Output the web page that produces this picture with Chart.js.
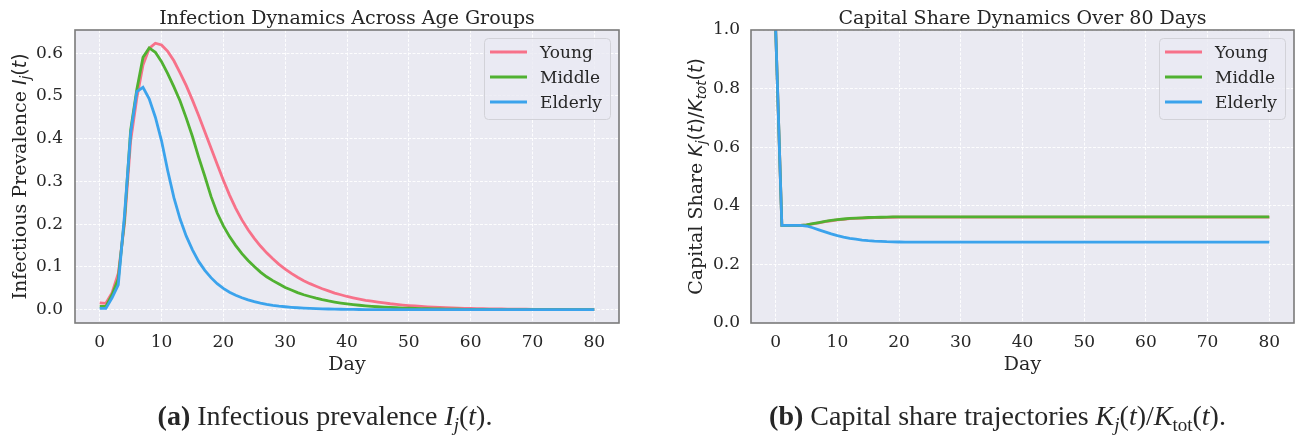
<!DOCTYPE html>
<html><head><meta charset="utf-8">
<script src="https://cdn.jsdelivr.net/npm/chart.js@4.4.1/dist/chart.umd.min.js"></script>
<style>
html,body{margin:0;padding:0;background:#fff;}
#wrap{position:relative;width:1296px;height:436px;overflow:hidden;}
.c{position:absolute;top:0;width:648px;height:436px;}
canvas{display:block;}
</style></head><body>
<div id="wrap">
<div class="c" style="left:0"><canvas id="c1" width="648" height="436"></canvas></div>
<div class="c" style="left:648px"><canvas id="c2" width="648" height="436"></canvas></div>
</div>
<script>
// ---------- data ----------
const days = [0,1,2,3,4,5,6,7,8,9,10,11,12,13,14,15,16,17,18,19,20,21,22,23,24,25,26,27,28,29,30,31,32,33,34,35,36,37,38,39,40,41,42,43,44,45,46,47,48,49,50,51,52,53,54,55,56,57,58,59,60,61,62,63,64,65,66,67,68,69,70,71,72,73,74,75,76,77,78,79,80];
const xTickValues = [0,10,20,30,40,50,60,70,80];
const yTicksLeft = [0.0,0.1,0.2,0.3,0.4,0.5,0.6];
const yTicksRight = [0.0,0.2,0.4,0.6,0.8,1.0];
const groupNames = ['Young','Middle','Elderly'];
const groupColors = ['#f77189','#50b131','#3ba3ec'];

const infYoung = [0.016,0.015,0.040,0.085,0.200,0.395,0.495,0.572,0.611,0.623,
 0.619,0.604,0.582,0.554,0.524,0.490,0.454,0.416,0.378,0.340,
 0.303,0.268,0.237,0.210,0.187,0.167,0.149,0.133,0.119,0.106,
 0.095,0.085,0.076,0.068,0.061,0.055,0.049,0.044,0.039,0.035,
 0.031,0.028,0.025,0.022,0.020,0.018,0.016,0.014,0.0125,0.011,
 0.0098,0.0087,0.0077,0.0069,0.0061,0.0054,0.0048,0.0043,0.0038,0.0034,
 0.0030,0.0027,0.0024,0.0021,0.0019,0.0017,0.0015,0.0013,0.0012,0.0011,
 0.0010,0.0009,0.0008,0.0007,0.0006,0.0006,0.0005,0.0005,0.0004,0.0004,
 0.0003];
const infMiddle = [0.008,0.008,0.035,0.072,0.210,0.420,0.515,0.590,0.612,0.602,
 0.580,0.552,0.521,0.488,0.448,0.405,0.357,0.312,0.265,0.226,
 0.196,0.171,0.150,0.131,0.115,0.101,0.088,0.077,0.068,0.060,
 0.052,0.046,0.040,0.035,0.031,0.027,0.0235,0.0205,0.018,0.0157,
 0.0137,0.012,0.0105,0.0092,0.008,0.007,0.0061,0.0053,0.0046,0.004,
 0.0035,0.0031,0.0027,0.0023,0.002,0.0018,0.0015,0.0013,0.0012,0.001,
 0.0009,0.0008,0.0007,0.0006,0.0005,0.0005,0.0004,0.0004,0.0003,0.0003,
 0.0003,0.0002,0.0002,0.0002,0.0002,0.0002,0.0002,0.0002,0.0002,0.0002,
 0.0002];
const infElderly = [0.003,0.003,0.028,0.058,0.220,0.413,0.510,0.520,0.493,0.450,
 0.395,0.325,0.262,0.212,0.172,0.140,0.113,0.092,0.075,0.061,
 0.050,0.041,0.034,0.028,0.023,0.019,0.0155,0.0127,0.0104,0.0085,
 0.0070,0.0057,0.0047,0.0038,0.0031,0.0026,0.0021,0.0017,0.0014,0.0011,
 0.0009,0.0007,0.0006,0.0005,0.0004,0.0003,0.0003,0.0002,0.0002,0.0002,
 0.0001,0.0001,0.0001,0.0001,0.0001,0.0001,0.0001,0.0001,0.0001,0.0001,
 0.0001,0.0001,0.0001,0.0001,0.0001,0.0001,0.0001,0.0001,0.0001,0.0001,
 0.0001,0.0001,0.0001,0.0001,0.0001,0.0001,0.0001,0.0001,0.0001,0.0001,
 0.0001];

const capYoung = [1.0,0.3333,0.3333,0.3333,0.3333,0.335,0.338,0.342,0.346,0.349,
 0.352,0.354,0.356,0.357,0.358,0.359,0.3595,0.360,0.3605,0.361,
 0.3612,0.3612,0.3612,0.3612,0.3612,0.3612,0.3612,0.3612,0.3612,0.3612,
 0.3612,0.3612,0.3612,0.3612,0.3612,0.3612,0.3612,0.3612,0.3612,0.3612,
 0.3612,0.3612,0.3612,0.3612,0.3612,0.3612,0.3612,0.3612,0.3612,0.3612,
 0.3612,0.3612,0.3612,0.3612,0.3612,0.3612,0.3612,0.3612,0.3612,0.3612,
 0.3612,0.3612,0.3612,0.3612,0.3612,0.3612,0.3612,0.3612,0.3612,0.3612,
 0.3612,0.3612,0.3612,0.3612,0.3612,0.3612,0.3612,0.3612,0.3612,0.3612,
 0.3612];
const capMiddle = [1.0,0.3333,0.3333,0.3333,0.3333,0.335,0.339,0.343,0.347,0.350,
 0.353,0.355,0.357,0.358,0.359,0.360,0.3605,0.361,0.3615,0.362,
 0.3625,0.3625,0.3625,0.3625,0.3625,0.3625,0.3625,0.3625,0.3625,0.3625,
 0.3625,0.3625,0.3625,0.3625,0.3625,0.3625,0.3625,0.3625,0.3625,0.3625,
 0.3625,0.3625,0.3625,0.3625,0.3625,0.3625,0.3625,0.3625,0.3625,0.3625,
 0.3625,0.3625,0.3625,0.3625,0.3625,0.3625,0.3625,0.3625,0.3625,0.3625,
 0.3625,0.3625,0.3625,0.3625,0.3625,0.3625,0.3625,0.3625,0.3625,0.3625,
 0.3625,0.3625,0.3625,0.3625,0.3625,0.3625,0.3625,0.3625,0.3625,0.3625,
 0.3625];
const capElderly = [1.0,0.3333,0.3333,0.3333,0.3333,0.331,0.325,0.318,0.311,0.304,
 0.298,0.293,0.289,0.286,0.283,0.281,0.2795,0.2785,0.2775,0.277,
 0.2765,0.2763,0.2763,0.2763,0.2763,0.2763,0.2763,0.2763,0.2763,0.2763,
 0.2763,0.2763,0.2763,0.2763,0.2763,0.2763,0.2763,0.2763,0.2763,0.2763,
 0.2763,0.2763,0.2763,0.2763,0.2763,0.2763,0.2763,0.2763,0.2763,0.2763,
 0.2763,0.2763,0.2763,0.2763,0.2763,0.2763,0.2763,0.2763,0.2763,0.2763,
 0.2763,0.2763,0.2763,0.2763,0.2763,0.2763,0.2763,0.2763,0.2763,0.2763,
 0.2763,0.2763,0.2763,0.2763,0.2763,0.2763,0.2763,0.2763,0.2763,0.2763,
 0.2763];

// ---------- helpers ----------
const TXT = '#262626';
const SERIF = '"DejaVu Serif", serif';
const MATH = '"DejaVu Sans", sans-serif';
const TIMES = '"Liberation Serif", "Times New Roman", serif';

function drawRich(ctx, segs, x, y, rot) {
  ctx.save();
  ctx.translate(x, y);
  if (rot) ctx.rotate(rot);
  let w = 0;
  for (const s of segs) { ctx.font = s.f; w += ctx.measureText(s.t).width; }
  let cx = -w / 2;
  ctx.textAlign = 'left';
  ctx.textBaseline = 'alphabetic';
  ctx.fillStyle = TXT;
  for (const s of segs) {
    ctx.font = s.f;
    ctx.fillText(s.t, cx, s.dy || 0);
    cx += ctx.measureText(s.t).width;
  }
  ctx.restore();
}

function makeDatasets(arrs) {
  return arrs.map((a, i) => ({
    label: groupNames[i],
    data: days.map((d, k) => ({ x: d, y: a[k] })),
    borderColor: groupColors[i],
    backgroundColor: groupColors[i],
    borderWidth: 2.8,
    pointRadius: 0,
    tension: 0,
    fill: false,
    order: 2 - i
  }));
}

function decorPlugin(cfg) {
  return {
    id: 'decor',
    beforeDraw(chart) {
      const { ctx, chartArea: a } = chart;
      ctx.save();
      ctx.fillStyle = '#eaeaf2';
      ctx.fillRect(a.left, a.top, a.right - a.left, a.bottom - a.top);
      ctx.restore();
    },
    afterDraw(chart) {
      const { ctx, chartArea: a } = chart;
      ctx.save();
      ctx.strokeStyle = '#7a7a7a';
      ctx.lineWidth = 1.6;
      ctx.strokeRect(a.left, a.top, a.right - a.left, a.bottom - a.top);
      ctx.fillStyle = TXT;
      ctx.font = '19px ' + SERIF;
      ctx.textAlign = 'center';
      ctx.textBaseline = 'alphabetic';
      ctx.fillText(cfg.title, (a.left + a.right) / 2, 24);
      ctx.fillText('Day', (a.left + a.right) / 2, 370);
      ctx.restore();
      drawRich(ctx, cfg.ylabel, cfg.ylabelX, (a.top + a.bottom) / 2, -Math.PI / 2);
      // legend
      const bw = 126, bh = 81;
      const bx = a.right - 9 - bw, by = a.top + 8;
      ctx.save();
      ctx.beginPath();
      if (ctx.roundRect) ctx.roundRect(bx + 0.5, by + 0.5, bw, bh, 4); else ctx.rect(bx + 0.5, by + 0.5, bw, bh);
      ctx.fillStyle = 'rgba(234,234,242,0.8)';
      ctx.fill();
      ctx.strokeStyle = '#d2d2d8';
      ctx.lineWidth = 1;
      ctx.stroke();
      chart.data.datasets.forEach((ds, i) => {
        const ly = by + 14 + i * 25;
        ctx.strokeStyle = ds.borderColor;
        ctx.lineWidth = 2.8;
        ctx.beginPath();
        ctx.moveTo(bx + 6, ly);
        ctx.lineTo(bx + 43, ly);
        ctx.stroke();
        ctx.fillStyle = TXT;
        ctx.font = '17px ' + SERIF;
        ctx.textAlign = 'left';
        ctx.textBaseline = 'alphabetic';
        ctx.fillText(ds.label, bx + 56, ly + 6);
      });
      ctx.restore();
      drawRich(ctx, cfg.caption, cfg.captionX, 425, 0);
    }
  };
}

function makeChart(id, arrs, yTicks, ymin, ymax, yAxisWidth, rightPad, yPad, cfg) {
  const ctx = document.getElementById(id).getContext('2d');
  return new Chart(ctx, {
    type: 'line',
    data: { datasets: makeDatasets(arrs) },
    options: {
      responsive: false,
      animation: false,
      devicePixelRatio: 1,
      layout: { padding: { top: 30, right: rightPad, bottom: 56, left: 0 } },
      plugins: { legend: { display: false }, tooltip: { enabled: false }, title: { display: false } },
      scales: {
        x: {
          type: 'linear', min: -4, max: 84,
          afterBuildTicks: s => { s.ticks = xTickValues.map(v => ({ value: v })); },
          afterFit: s => { s.height = 57; },
          grid: { color: 'rgba(255,255,255,0.9)', lineWidth: 1, drawTicks: false },
          border: { display: false, dash: [3, 1.5] },
          ticks: { color: TXT, font: { family: SERIF, size: 17 }, padding: 9, maxRotation: 0, autoSkip: false,
                   callback: v => String(v) }
        },
        y: {
          type: 'linear', min: ymin, max: ymax,
          afterBuildTicks: s => { s.ticks = yTicks.map(v => ({ value: v })); },
          afterFit: s => { s.width = yAxisWidth; },
          grid: { color: 'rgba(255,255,255,0.9)', lineWidth: 1, drawTicks: false },
          border: { display: false, dash: [3, 1.5] },
          ticks: { color: TXT, font: { family: SERIF, size: 17 }, padding: yPad, autoSkip: false,
                   callback: v => Number(v).toFixed(1) }
        }
      }
    },
    plugins: [decorPlugin(cfg)]
  });
}

const MI = 'italic 19px ' + MATH, MR = '19px ' + MATH, MS = 'italic 13.5px ' + MATH;
const CF = 28, CS = 19;
makeChart('c1', [infYoung, infMiddle, infElderly], yTicksLeft, -0.031, 0.654, 75, 29, 12, {
  title: 'Infection Dynamics Across Age Groups',
  ylabelX: 26,
  ylabel: [
    { t: 'Infectious Prevalence ', f: '19px ' + SERIF },
    { t: 'I', f: MI }, { t: 'j', f: MS, dy: 4 }, { t: '(', f: MR }, { t: 't', f: MI }, { t: ')', f: MR }
  ],
  captionX: 325,
  caption: [
    { t: '(a)', f: `bold ${CF}px ` + TIMES },
    { t: ' Infectious prevalence ', f: `${CF}px ` + TIMES },
    { t: 'I', f: `italic ${CF}px ` + TIMES }, { t: 'j', f: `italic ${CS}px ` + TIMES, dy: 6 },
    { t: '(', f: `${CF}px ` + TIMES }, { t: 't', f: `italic ${CF}px ` + TIMES }, { t: ').', f: `${CF}px ` + TIMES }
  ]
});
makeChart('c2', [capYoung, capMiddle, capElderly], yTicksRight, 0, 1.0, 103, 2, 11, {
  title: 'Capital Share Dynamics Over 80 Days',
  ylabelX: 54,
  ylabel: [
    { t: 'Capital Share ', f: '19px ' + SERIF },
    { t: 'K', f: MI }, { t: 'j', f: MS, dy: 4 }, { t: '(', f: MR }, { t: 't', f: MI }, { t: ')/', f: MR },
    { t: 'K', f: MI }, { t: 'tot', f: MS, dy: 4 }, { t: '(', f: MR }, { t: 't', f: MI }, { t: ')', f: MR }
  ],
  captionX: 997.5 - 648,
  caption: [
    { t: '(b)', f: `bold ${CF}px ` + TIMES },
    { t: ' Capital share trajectories ', f: `${CF}px ` + TIMES },
    { t: 'K', f: `italic ${CF}px ` + TIMES }, { t: 'j', f: `italic ${CS}px ` + TIMES, dy: 6 },
    { t: '(', f: `${CF}px ` + TIMES }, { t: 't', f: `italic ${CF}px ` + TIMES }, { t: ')/', f: `${CF}px ` + TIMES },
    { t: 'K', f: `italic ${CF}px ` + TIMES }, { t: 'tot', f: `${CS}px ` + TIMES, dy: 6 },
    { t: '(', f: `${CF}px ` + TIMES }, { t: 't', f: `italic ${CF}px ` + TIMES }, { t: ').', f: `${CF}px ` + TIMES }
  ]
});
</script>
</body></html>
